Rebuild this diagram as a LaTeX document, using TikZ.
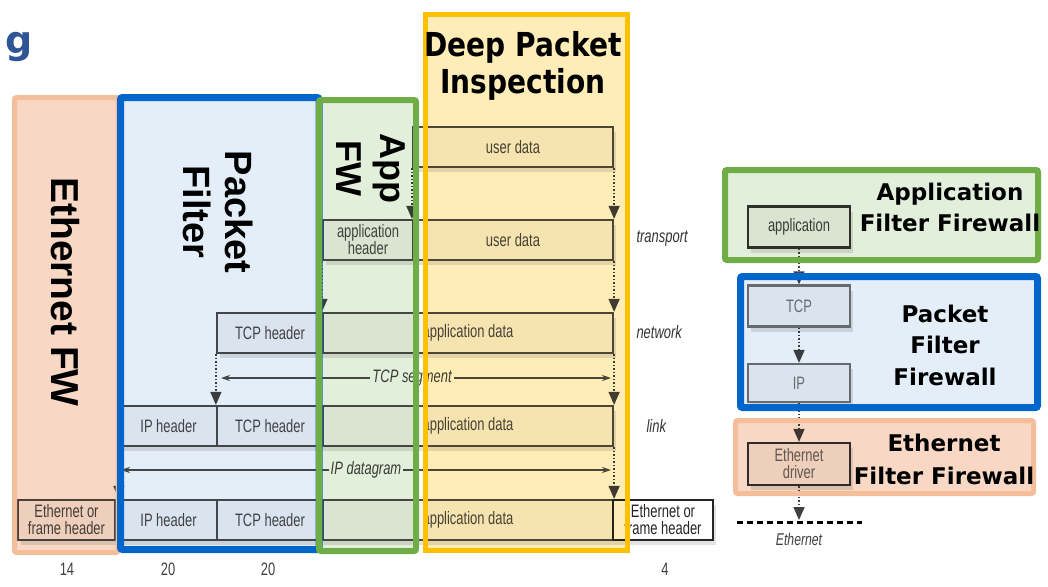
\documentclass[tikz,border=0pt]{standalone}
\usepackage{fontspec}
\usepackage{tikz}
\usetikzlibrary{arrows.meta,shadows}
\setmainfont{Liberation Sans}
\newfontfamily\cellfont[FakeStretch=0.72]{Liberation Sans}
\newfontfamily\headfont{DejaVu Sans}
\newfontfamily\dpifont[FakeStretch=0.85]{DejaVu Sans}
\newcommand{\setfs}[2]{\fontsize{#1}{#2}\selectfont}
\definecolor{ethfill}{RGB}{248,216,196}
\definecolor{ethline}{RGB}{245,190,155}
\definecolor{pffill}{RGB}{228,238,248}
\definecolor{pfline}{RGB}{0,102,204}
\definecolor{appfill}{RGB}{226,239,218}
\definecolor{appline}{RGB}{112,173,71}
\definecolor{dpifill}{RGB}{255,237,184}
\definecolor{dpiline}{RGB}{255,192,0}
\definecolor{titleblue}{RGB}{47,85,151}

\begin{document}
\begin{tikzpicture}[x=1pt,y=-1pt,bigrot/.style={rotate=-90,align=center,text=black},sidelbl/.style={font=\headfont\bfseries\setfs{23}{31},align=center,text=black}]
\tikzstyle{cell} = [rectangle, draw=black!70, line width=2.2pt, fill=black!4, minimum height=40pt, inner sep=0pt, align=center, text=black!72, font=\cellfont\setfs{18}{17}, drop shadow={shadow xshift=3pt,shadow yshift=-5pt,opacity=0.22}]
\tikzstyle{flow} = [dotted, line width=1.5pt, black!75, -{Triangle[length=13pt,width=11pt]}]
\tikzstyle{seglen} = [line width=1.2pt, black!70, {Stealth[length=9pt,width=6pt]}-{Stealth[length=9pt,width=6pt]}]
\tikzstyle{seglbl} = [fill=white, inner sep=2pt, font=\cellfont\itshape\setfs{18}{17}, text=black!75]
\tikzstyle{layername} = [anchor=west, font=\cellfont\itshape\setfs{18}{17}, text=black!80]
\tikzstyle{bytes} = [font=\cellfont\setfs{18}{17}, text=black!75]

\useasboundingbox (0,0) rectangle (1048,586);

\node (gtitle) at (2,53) [anchor=base west, text=titleblue, font=\headfont\bfseries\setfs{38}{38}] {g};

\node (ud1) at (513,147) [cell, minimum width=200pt] {user data};
\node (ah2) at (368,240) [cell, minimum width=90pt] {application\\header};
\node (ud2) at (513,240) [cell, minimum width=200pt] {user data};
\node (tcp3) at (270,333) [cell, minimum width=106pt] {TCP header};
\node (ad3) at (468,333) [cell, minimum width=290pt] {application data};
\node (ip4) at (168.5,426) [cell, minimum width=97pt] {IP header};
\node (tcp4) at (270,426) [cell, minimum width=106pt] {TCP header};
\node (ad4) at (468,426) [cell, minimum width=290pt] {application data};
\node (eth5) at (66.5,520) [cell, minimum width=97pt] {Ethernet or\\frame header};
\node (ip5) at (168.5,520) [cell, minimum width=97pt] {IP header};
\node (tcp5) at (270,520) [cell, minimum width=106pt] {TCP header};
\node (ad5) at (468,520) [cell, minimum width=290pt] {application data};
\node (trail5) at (663,520) [cell, minimum width=100pt, fill=white, draw=black!85, text=black!85] {Ethernet or\\frame header};

\draw[flow] (ud1.south east) -- (ud2.north east);
\draw[flow] (ud1.south west) -- (ud2.north west);
\draw[flow] (ud2.south east) -- (ad3.north east);
\draw[flow] (ah2.south west) -- (ad3.north west);
\draw[flow] (ad3.south east) -- (ad4.north east);
\draw[flow] (tcp3.south west) -- (tcp4.north west);
\draw[flow] (ad4.south east) -- (ad5.north east);
\draw[flow] (ip4.south west) -- (ip5.north west);

\coordinate (segL) at (221,378);
\coordinate (segR) at (611,378);
\coordinate (dgL) at (121,470);
\coordinate (dgR) at (611,470);
\draw[seglen] (segL) -- node[pos=0.49, seglbl] {TCP segment} (segR);
\draw[seglen] (dgL) -- node[pos=0.5, seglbl] {IP datagram} (dgR);

\node (ltrans) at (633,239) [layername] {transport};
\node (lnet) at (633,332) [layername] {network};
\node (llink) at (643,426) [layername] {link};

\node (n14) at (67,569) [bytes] {14};
\node (n20a) at (168,569) [bytes] {20};
\node (n20b) at (268,569) [bytes] {20};
\node (n4) at (665,569) [bytes] {4};

\node (rapp) at (799,227) [cell, minimum width=102pt, minimum height=41pt, draw=black!80, text=black!75] {application};
\node (rtcp) at (799,306) [cell, minimum width=102pt, minimum height=41pt, draw=black!55, text=black!55] {TCP};
\node (rip) at (799,383) [cell, minimum width=102pt, minimum height=38pt, draw=black!55, text=black!55] {IP};
\node (rdrv) at (799,464) [cell, minimum width=102pt, minimum height=42pt, draw=black!80, text=black!60] {Ethernet\\driver};
\coordinate (wireL) at (737,522);
\coordinate (wireR) at (862,522);
\coordinate (wireM) at (799,520);
\draw[flow] (rapp) -- (rtcp);
\draw[flow] (rtcp) -- (rip);
\draw[flow] (rip) -- (rdrv);
\draw[flow] (rdrv) -- (wireM);
\draw[black, line width=3pt, dash pattern=on 6pt off 4pt] (wireL) -- (wireR);
\node (wirelbl) at (799,539) [bytes, font=\cellfont\itshape\setfs{17}{17}] {Ethernet};

\begin{scope}[blend mode=multiply]
\fill[ethfill] (14.5,97.5) rectangle (118,552.5);
\fill[pffill] (120.5,97.5) rectangle (319,549.5);
\fill[appfill] (319,100) rectangle (416,551);
\fill[dpifill] (425.5,14.5) rectangle (627.5,550.5);
\fill[appfill] (725,170) rectangle (1038,260);
\fill[pffill] (740.5,276.5) rectangle (1037.5,407.5);
\fill[ethfill] (735.5,420.5) rectangle (1033.5,493.5);
\end{scope}

\draw[ethline, line width=5pt, rounded corners=2pt] (14.5,97.5) rectangle (118,552.5);
\draw[pfline, line width=7pt, rounded corners=2pt] (120.5,97.5) rectangle (319,549.5);
\draw[appline, line width=6pt, rounded corners=2pt] (319,100) rectangle (416,551);
\draw[dpiline, line width=5pt] (425.5,14.5) rectangle (627.5,550.5);
\draw[appline, line width=6pt, rounded corners=2pt] (725,170) rectangle (1038,260);
\draw[pfline, line width=7pt, rounded corners=2pt] (740.5,276.5) rectangle (1037.5,407.5);
\draw[ethline, line width=5pt, rounded corners=2pt] (735.5,420.5) rectangle (1033.5,493.5);

\node (ethfw) at (65,292) [bigrot, font=\bfseries\setfs{39}{42}] {Ethernet FW};
\node (pf) at (218,212) [bigrot, font=\bfseries\setfs{38}{42}] {Packet\\Filter};
\node (appfw) at (371,168) [bigrot, font=\bfseries\setfs{36}{44}] {App\\FW};
\node (dpi) at (523,66) [font=\dpifont\bfseries\setfs{33}{37}, align=center] {Deep Packet\\Inspection};

\node (appfwtxt) at (950,207) [sidelbl] {Application\\Filter Firewall};
\node (pffwtxt) at (945,345) [sidelbl, font=\headfont\bfseries\setfs{23}{31.5}] {Packet\\Filter\\Firewall};
\node (ethfwtxt) at (944,459) [sidelbl, font=\headfont\bfseries\setfs{23}{33}] {Ethernet\\Filter Firewall};
\end{tikzpicture}
\end{document}
